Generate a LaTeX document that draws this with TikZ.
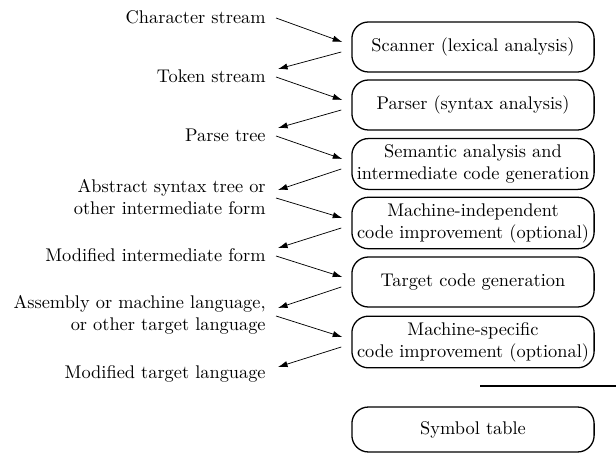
\documentclass[tikz,border=0pt]{standalone}
\usetikzlibrary{calc,arrows.meta}
\begin{document}
\begin{tikzpicture}[x=0.545pt,y=-0.545pt,
  phase/.style={draw, line width=0.7pt, rounded corners=9pt,
    minimum width=132pt, minimum height=27.25pt,
    inner xsep=0pt, inner ysep=3.3pt, align=center},
  artifact/.style={anchor=east, inner sep=0pt, align=right},
  flow/.style={-{Latex[length=5.2pt,width=3.4pt]}, line width=0.4pt}]
\useasboundingbox (0,0) rectangle (616,454);

% compiler phases
\node[phase] (scan)  at (473,47)  {Scanner (lexical analysis)};
\node[phase] (parse) at (473,105) {Parser (syntax analysis)};
\node[phase] (sem)   at (473,164) {Semantic analysis and\\intermediate code generation};
\node[phase] (mi)    at (473,223) {Machine-independent\\code improvement (optional)};
\node[phase] (gen)   at (473,282) {Target code generation};
\node[phase] (ms)    at (473,342) {Machine-specific\\code improvement (optional)};
\node[phase, minimum height=24.5pt] (sym) at (473,429.5) {Symbol table};

% separator above the symbol table
\coordinate (ruleL) at (480,386);
\coordinate (ruleR) at (616,386);
\draw[line width=1.5pt] (ruleL) -- (ruleR);

% intermediate forms
\node[artifact] (cs)  at (266,17)  {Character stream};
\node[artifact] (ts)  at (266,76)  {Token stream};
\node[artifact] (pt)  at (266,135) {Parse tree};
\node[artifact] (ast) at (266,197) {Abstract syntax tree or\\other intermediate form};
\node[artifact] (mif) at (266,255) {Modified intermediate form};
\node[artifact] (asm) at (266,315) {Assembly or machine language,\\or other target language};
\node[artifact] (mtl) at (266,374) {Modified target language};

% each form feeds a phase, which yields the next form
\foreach \src/\ph/\dst in {cs/scan/ts, ts/parse/pt, pt/sem/ast,
                           ast/mi/mif, mif/gen/asm, asm/ms/mtl} {
  \draw[flow] ($(\src.east)+(10,1)$) -- ($(\ph.west)+(-9,-5)$);
  \draw[flow] ($(\ph.west)+(-10,5)$) -- ($(\dst.east)+(12,-7)$);
}
\end{tikzpicture}
\end{document}
